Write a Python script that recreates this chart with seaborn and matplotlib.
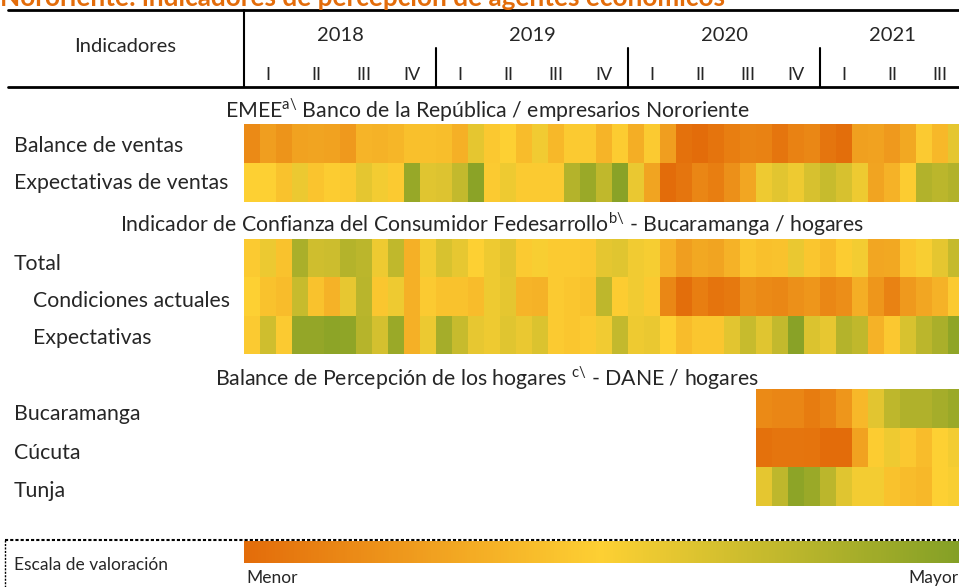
import numpy as np
import pandas as pd
import matplotlib.pyplot as plt
import seaborn as sns
from matplotlib.colors import LinearSegmentedColormap
from matplotlib.lines import Line2D
from matplotlib.cm import ScalarMappable

sns.set_theme(style="white")
plt.rcParams['font.family'] = ['Lato', 'DejaVu Sans']
plt.rcParams['mathtext.fontset'] = 'custom'
plt.rcParams['mathtext.rm'] = 'Lato'

# --- data (0 = menor / naranja, 0.5 = amarillo, 1 = mayor / verde) ---
years = ['2018', '2019', '2020', '2021']
year_months = [12, 12, 12, 9]
quarters = ['I', 'II', 'III', 'IV', 'I', 'II', 'III', 'IV',
            'I', 'II', 'III', 'IV', 'I', 'II', 'III']
months = pd.period_range('2018-01', '2021-09', freq='M').astype(str)

balance_ventas = [0.15, 0.25, 0.20, 0.27, 0.28, 0.27, 0.23, 0.36, 0.35, 0.37, 0.42, 0.42,
                  0.41, 0.34, 0.60, 0.46, 0.50, 0.40, 0.55, 0.38, 0.47, 0.47, 0.36, 0.48,
                  0.33, 0.47, 0.25, 0.03, 0.00, 0.04, 0.09, 0.12, 0.11, 0.05, 0.11, 0.14,
                  0.05, 0.01, 0.26, 0.27, 0.23, 0.30, 0.47, 0.38, 0.60]
expect_ventas = [0.50, 0.50, 0.43, 0.57, 0.44, 0.48, 0.47, 0.60, 0.54, 0.47, 0.92, 0.62,
                 0.63, 0.74, 0.97, 0.47, 0.56, 0.47, 0.47, 0.47, 0.80, 0.91, 0.75, 0.98,
                 0.58, 0.28, 0.00, 0.05, 0.13, 0.09, 0.18, 0.29, 0.56, 0.61, 0.56, 0.66,
                 0.72, 0.66, 0.56, 0.28, 0.35, 0.48, 0.81, 0.77, 0.81]
icc_total = [0.47, 0.57, 0.43, 0.84, 0.69, 0.70, 0.80, 0.77, 0.56, 0.75, 0.34, 0.54,
             0.65, 0.59, 0.50, 0.56, 0.61, 0.47, 0.52, 0.47, 0.47, 0.46, 0.60, 0.62,
             0.55, 0.53, 0.35, 0.25, 0.30, 0.28, 0.35, 0.45, 0.42, 0.43, 0.58, 0.45,
             0.40, 0.48, 0.54, 0.29, 0.30, 0.45, 0.52, 0.60, 0.73]
icc_actuales = [0.50, 0.43, 0.40, 0.72, 0.43, 0.35, 0.59, 0.78, 0.45, 0.56, 0.34, 0.47,
                0.43, 0.43, 0.40, 0.56, 0.60, 0.36, 0.35, 0.47, 0.45, 0.43, 0.76, 0.48,
                0.55, 0.47, 0.14, 0.01, 0.09, 0.04, 0.07, 0.18, 0.15, 0.14, 0.18, 0.21,
                0.14, 0.17, 0.33, 0.21, 0.11, 0.23, 0.29, 0.35, 0.47]
icc_expect = [0.47, 0.69, 0.47, 0.93, 0.93, 0.96, 0.95, 0.79, 0.67, 0.91, 0.34, 0.57,
              0.86, 0.72, 0.59, 0.56, 0.62, 0.58, 0.64, 0.47, 0.45, 0.47, 0.55, 0.74,
              0.56, 0.58, 0.50, 0.40, 0.45, 0.45, 0.61, 0.72, 0.62, 0.74, 0.98, 0.64,
              0.59, 0.80, 0.75, 0.35, 0.46, 0.65, 0.77, 0.84, 0.95]
# DANE desde septiembre 2020
dane_start = '2020-09'
dane_bucaramanga = [0.15, 0.13, 0.13, 0.08, 0.12, 0.21, 0.38, 0.61, 0.76, 0.82, 0.82, 0.86, 0.91]
dane_cucuta = [0.03, 0.05, 0.05, 0.04, 0.00, 0.00, 0.27, 0.48, 0.56, 0.46, 0.40, 0.50, 0.54]
dane_tunja = [0.60, 0.76, 0.96, 0.91, 0.77, 0.62, 0.54, 0.54, 0.43, 0.40, 0.38, 0.50, 0.52]

cmap = LinearSegmentedColormap.from_list('valoracion', ['#E36C0A', '#FDD033', '#84A026'])
orange = '#E36C0A'
FS = 15.3

W, H = 959, 587
fig = plt.figure(figsize=(W / 100, H / 100), dpi=100)


def box(x0, y0, x1, y1):
    return [x0 / W, 1 - y1 / H, (x1 - x0) / W, (y1 - y0) / H]


def fy(y):
    return 1 - y / H


X0, X1 = 244, 964

# title (cut at the top as in the source)
fig.text(0.0, fy(6), 'Nororiente: indicadores de percepción de agentes económicos',
         color=orange, fontsize=18.8, fontweight='bold', ha='left', va='baseline')

# header
fig.add_artist(Line2D([8 / W, 1], [fy(10), fy(10)], color='black', lw=2))
fig.add_artist(Line2D([8 / W, 1], [fy(87), fy(87)], color='black', lw=2))
fig.add_artist(Line2D([X0 / W, X0 / W], [fy(10), fy(87)], color='black', lw=1.5))
fig.text(125 / W, fy(47), 'Indicadores', fontsize=14.5, ha='center', va='center')

hax = fig.add_axes(box(X0, 10, X1, 87))
hax.set_xlim(0, len(months))
hax.set_ylim(1, 0)
hax.axis('off')
start = 0
for yr, n in zip(years, year_months):
    hax.text(start + n / 2, 0.33, yr, fontsize=14.5, ha='center', va='center')
    if start > 0:
        hax.plot([start, start], [0.49, 1], color='black', lw=1.5, clip_on=False)
    start += n
for i, q in enumerate(quarters):
    hax.text(i * 3 + 1.5, 0.84, q, fontsize=13, ha='center', va='center')


def block(frame, top, bottom, label_x, label_base):
    ax = fig.add_axes(box(X0, top, X1, bottom))
    sns.heatmap(frame, ax=ax, cmap=cmap, vmin=0, vmax=1, cbar=False,
                xticklabels=False, yticklabels=False, linewidths=0)
    ax.set_xlabel('')
    ax.set_ylabel('')
    for name, lx, ly in zip(frame.index, label_x, label_base):
        fig.text(lx / W, fy(ly), name, fontsize=FS, ha='left', va='baseline')
    return ax


emee = pd.DataFrame([balance_ventas, expect_ventas], columns=months,
                    index=['Balance de ventas', 'Expectativas de ventas'])
icc = pd.DataFrame([icc_total, icc_actuales, icc_expect], columns=months,
                   index=['Total', 'Condiciones actuales', 'Expectativas'])
dane = pd.DataFrame(np.nan, columns=months, index=['Bucaramanga', 'Cúcuta', 'Tunja'])
dane_cols = months[list(months).index(dane_start):]
dane.loc['Bucaramanga', dane_cols] = dane_bucaramanga
dane.loc['Cúcuta', dane_cols] = dane_cucuta
dane.loc['Tunja', dane_cols] = dane_tunja

fig.text(487 / W, fy(118), r'EMEE$^{\mathrm{a\backslash}}$ Banco de la República / empresarios Nororiente',
         fontsize=FS, ha='center', va='baseline')
block(emee, 124, 202, [14, 14], [152, 189])

fig.text(492 / W, fy(232),
         r'Indicador de Confianza del Consumidor Fedesarrollo$^{\mathrm{b\backslash}}$ - Bucaramanga / hogares',
         fontsize=FS, ha='center', va='baseline')
block(icc, 239, 354, [14, 33, 33], [270, 307, 344])

fig.text(487 / W, fy(386),
         r'Balance de Percepción de los hogares $^{\mathrm{c\backslash}}$ - DANE / hogares',
         fontsize=FS, ha='center', va='baseline')
block(dane, 389, 506, [14, 14, 14], [420, 459, 497])

# scale legend
fig.add_artist(Line2D([5 / W, 1], [fy(540), fy(540)], color='black', lw=1.5, ls=(0, (1.5, 1))))
fig.add_artist(Line2D([5 / W, 5 / W], [fy(540), 0], color='black', lw=1, ls=(0, (1.5, 1))))
fig.text(14 / W, fy(565), 'Escala de valoración', fontsize=12.5, ha='left', va='center')
cax = fig.add_axes(box(X0, 541, 959, 563))
cb = fig.colorbar(ScalarMappable(cmap=cmap), cax=cax, orientation='horizontal')
cb.outline.set_visible(False)
cb.set_ticks([])
fig.text(246 / W, fy(583), 'Menor', fontsize=12.5, ha='left', va='baseline')
fig.text(958 / W, fy(583), 'Mayor', fontsize=12.5, ha='right', va='baseline')

fig.savefig('out.png', dpi=100)
